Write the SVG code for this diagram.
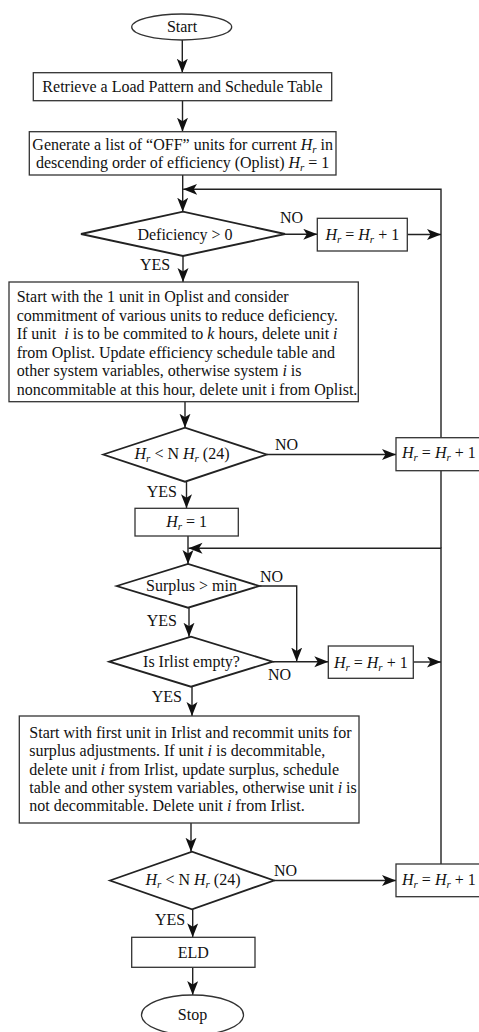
<svg xmlns="http://www.w3.org/2000/svg" width="479" height="1032" viewBox="0 0 479 1032">
<style>
text{font-family:"Liberation Serif","Times New Roman",serif;font-size:16px;fill:#111}
.c{text-anchor:middle}
.it{font-style:italic}
.sub{font-style:italic;font-size:11px}
.box{fill:#fff;stroke:#333;stroke-width:1.3}
.dia{fill:#fff;stroke:#222;stroke-width:1.8}
.ln{fill:none;stroke:#222;stroke-width:1.4}
.arr{fill:none;stroke:#222;stroke-width:1.4;marker-end:url(#ah)}
</style>
<defs>
<marker id="ah" markerUnits="userSpaceOnUse" markerWidth="15" markerHeight="12" refX="14" refY="5.5" orient="auto">
<path d="M0,0 L14,5.5 L0,11 L3.5,5.5 Z" fill="#111"/>
</marker>
</defs>
<rect width="479" height="1032" fill="#fff"/>

<g id="connectors">
<line class="arr" x1="182.3" y1="40" x2="182.3" y2="72.7"/>
<line class="arr" x1="182.5" y1="100.7" x2="182.5" y2="131.7"/>
<line class="arr" x1="182.7" y1="175" x2="182.7" y2="211.7"/>
<path class="arr" d="M441,437.7 V189.3 H183.2"/>
<line class="arr" x1="285" y1="234.3" x2="317.3" y2="234.3"/>
<line class="arr" x1="407.3" y1="234.5" x2="441" y2="234.5"/>
<line class="arr" x1="183" y1="256" x2="183" y2="282"/>
<line class="arr" x1="185" y1="401.7" x2="185" y2="427.7"/>
<line class="arr" x1="266.7" y1="454.5" x2="396" y2="454.5"/>
<line class="arr" x1="186.5" y1="481.7" x2="186.5" y2="508.3"/>
<line class="arr" x1="188" y1="536" x2="188" y2="564"/>
<path class="ln" d="M441,470.7 V548.3"/>
<path class="arr" d="M441,864 V548.3 H188.5"/>
<line class="arr" x1="189" y1="607.7" x2="189" y2="636.7"/>
<path class="arr" d="M259.3,586 H296.7 V661.5"/>
<line class="arr" x1="272.7" y1="661.7" x2="328.3" y2="661.7"/>
<line class="arr" x1="413.3" y1="662" x2="441" y2="662"/>
<line class="arr" x1="192" y1="686.7" x2="192" y2="716"/>
<line class="arr" x1="191" y1="823" x2="191" y2="851.7"/>
<line class="arr" x1="274" y1="880.5" x2="396" y2="880.5"/>
<line class="arr" x1="192.7" y1="909.3" x2="192.7" y2="937.3"/>
<line class="arr" x1="192.7" y1="967.3" x2="192.7" y2="995"/>
</g>

<g id="labels">
<text x="280" y="223.3">NO</text>
<text x="140" y="270">YES</text>
<text x="275" y="450">NO</text>
<text x="146.7" y="496.7">YES</text>
<text x="260" y="581.7">NO</text>
<text x="146.7" y="626">YES</text>
<text x="268" y="680">NO</text>
<text x="151.7" y="701.7">YES</text>
<text x="274" y="876">NO</text>
<text x="155" y="925">YES</text>
</g>

<g id="start">
<ellipse cx="181.7" cy="27" rx="50" ry="13" class="box"/>
<text class="c" x="182" y="32">Start</text>
</g>

<g id="retrieve">
<rect class="box" x="33.3" y="72.7" width="298.4" height="28"/>
<text class="c" x="182.5" y="92">Retrieve a Load Pattern and Schedule Table</text>
</g>

<g id="generate">
<rect class="box" x="29.3" y="131.7" width="306.7" height="43.3"/>
<text class="c" x="182.7" y="150">Generate a list of “OFF” units for current <tspan class="it">H</tspan><tspan class="sub" dy="3">r</tspan><tspan dy="-3"> in</tspan></text>
<text class="c" x="182.7" y="168">descending order of efficiency (Oplist) <tspan class="it">H</tspan><tspan class="sub" dy="3">r</tspan><tspan dy="-3"> = 1</tspan></text>
</g>

<g id="deficiency">
<polygon class="dia" points="81,234 183,211.7 285,234 183,256"/>
<text class="c" x="185" y="239.5">Deficiency &gt; 0</text>
</g>

<g id="inc1">
<rect class="box" x="317.3" y="218.3" width="90" height="32.7"/>
<text class="c" x="362.3" y="239.5"><tspan class="it">H</tspan><tspan class="sub" dy="3">r</tspan><tspan dy="-3"> = </tspan><tspan class="it">H</tspan><tspan class="sub" dy="3">r</tspan><tspan dy="-3"> + 1</tspan></text>
</g>

<g id="commit">
<rect class="box" x="9" y="282" width="349.3" height="119.7"/>
<text x="16.7" y="302">Start with the 1 unit in Oplist and consider</text>
<text x="16.7" y="320.5">commitment of various units to reduce deficiency.</text>
<text x="16.7" y="339">If unit <tspan class="it" dx="4">i</tspan> is to be commited to <tspan class="it">k</tspan> hours, delete unit <tspan class="it">i</tspan></text>
<text x="16.7" y="357.5">from Oplist. Update efficiency schedule table and</text>
<text x="16.7" y="376">other system variables, otherwise system <tspan class="it">i</tspan> is</text>
<text x="16.7" y="394.5">noncommitable at this hour, delete unit i from Oplist.</text>
</g>

<g id="check1">
<polygon class="dia" points="103.3,454.5 185,427.7 266.7,454.5 185,481.7"/>
<text class="c" x="182" y="459"><tspan class="it">H</tspan><tspan class="sub" dy="3">r</tspan><tspan dy="-3"> &lt; N </tspan><tspan class="it">H</tspan><tspan class="sub" dy="3">r</tspan><tspan dy="-3"> (24)</tspan></text>
</g>

<g id="inc2">
<rect class="box" x="396" y="437.7" width="95" height="33"/>
<text x="402" y="458.3"><tspan class="it">H</tspan><tspan class="sub" dy="3">r</tspan><tspan dy="-3"> = </tspan><tspan class="it">H</tspan><tspan class="sub" dy="3">r</tspan><tspan dy="-3"> + 1</tspan></text>
</g>

<g id="reset">
<rect class="box" x="135" y="508.3" width="103.3" height="27.7"/>
<text class="c" x="186.7" y="527"><tspan class="it">H</tspan><tspan class="sub" dy="3">r</tspan><tspan dy="-3"> = 1</tspan></text>
</g>

<g id="surplus">
<polygon class="dia" points="116.7,586 188,564 259.3,586 188,607.7"/>
<text class="c" x="191.5" y="590.5">Surplus &gt; min</text>
</g>

<g id="irlist">
<polygon class="dia" points="109.3,661.7 191,636.7 272.7,661.7 191,686.7"/>
<text class="c" x="191.5" y="667">Is Irlist empty?</text>
</g>

<g id="inc3">
<rect class="box" x="328.3" y="646" width="85" height="32.3"/>
<text class="c" x="370.8" y="667.5"><tspan class="it">H</tspan><tspan class="sub" dy="3">r</tspan><tspan dy="-3"> = </tspan><tspan class="it">H</tspan><tspan class="sub" dy="3">r</tspan><tspan dy="-3"> + 1</tspan></text>
</g>

<g id="recommit">
<rect class="box" x="19.3" y="716" width="339.7" height="107"/>
<text x="29.3" y="738">Start with first unit in Irlist and recommit units for</text>
<text x="29.3" y="756.3">surplus adjustments. If unit <tspan class="it">i</tspan> is decommitable,</text>
<text x="29.3" y="774.6">delete unit <tspan class="it">i</tspan> from Irlist, update surplus, schedule</text>
<text x="29.3" y="792.9">table and other system variables, otherwise unit <tspan class="it">i</tspan> is</text>
<text x="29.3" y="811.2">not decommitable. Delete unit <tspan class="it">i</tspan> from Irlist.</text>
</g>

<g id="check2">
<polygon class="dia" points="110,880.5 192,851.7 274,880.5 192,909.3"/>
<text class="c" x="193" y="884.5"><tspan class="it">H</tspan><tspan class="sub" dy="3">r</tspan><tspan dy="-3"> &lt; N </tspan><tspan class="it">H</tspan><tspan class="sub" dy="3">r</tspan><tspan dy="-3"> (24)</tspan></text>
</g>

<g id="inc4">
<rect class="box" x="396" y="864" width="95" height="32.7"/>
<text x="402" y="884.6"><tspan class="it">H</tspan><tspan class="sub" dy="3">r</tspan><tspan dy="-3"> = </tspan><tspan class="it">H</tspan><tspan class="sub" dy="3">r</tspan><tspan dy="-3"> + 1</tspan></text>
</g>

<g id="eld">
<rect class="box" x="131.7" y="937.3" width="123.3" height="30"/>
<text class="c" x="193.3" y="958">ELD</text>
</g>

<g id="stop">
<ellipse cx="192.5" cy="1015" rx="51" ry="20" class="box"/>
<text class="c" x="192.5" y="1020">Stop</text>
</g>
</svg>
